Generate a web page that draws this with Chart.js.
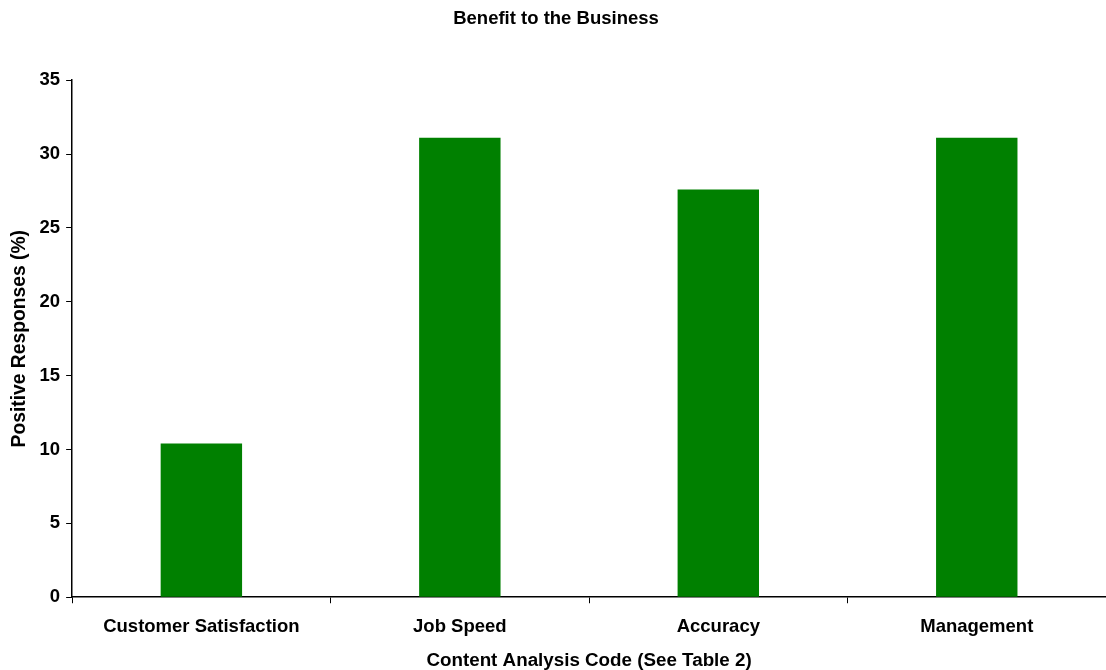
<!DOCTYPE html>
<html>
<head>
<meta charset="utf-8">
<script src="https://cdn.jsdelivr.net/npm/chart.js@4"></script>
<style>
    body {
        margin: 0;
        background: #fff;
        overflow: hidden;
    }
    .chart-container {
        position: relative;
        width: 1106px;
        height: 670px;
    }
</style>
</head>
<body>
<div class="chart-container">
    <canvas id="chart"></canvas>
</div>
<script>
    const categories = ["Customer Satisfaction", "Job Speed", "Accuracy", "Management"]
    const responses = [10.4, 31.1, 27.6, 31.1]
    const yTicks = [0, 5, 10, 15, 20, 25, 30, 35]

    const family = "'Liberation Sans', Arial, sans-serif"
    const font = {family: family, size: 18.5, weight: "bold"}

    const ctx = document.getElementById("chart").getContext("2d")
    new Chart(ctx, {
        type: "bar",
        data: {
            labels: categories,
            datasets: [{
                data: responses,
                backgroundColor: "#008000",
                borderWidth: 0,
                barPercentage: 0.63,
                categoryPercentage: 0.5
            }]
        },
        options: {
            responsive: true,
            maintainAspectRatio: false,
            animation: false,
            layout: {padding: {top: 0, right: 0, left: 6, bottom: -2}},
            plugins: {
                legend: {display: false},
                tooltip: {enabled: false},
                title: {
                    display: true,
                    text: "Benefit to the Business",
                    color: "#000",
                    font: font,
                    padding: {top: 8, bottom: 50}
                }
            },
            scales: {
                x: {
                    grid: {
                        offset: true,
                        drawOnChartArea: false,
                        tickLength: 6,
                        color: "#000"
                    },
                    border: {color: "#000", width: 1.5},
                    ticks: {color: "#000", font: font, padding: 13, maxRotation: 0},
                    title: {
                        display: true,
                        text: "Content Analysis Code (See Table 2)",
                        color: "#000",
                        font: {family: family, size: 18.8, weight: "bold"},
                        padding: {top: -2, bottom: 0}
                    }
                },
                y: {
                    min: 0,
                    max: 35,
                    afterBuildTicks: (axis) => {
                        axis.ticks = yTicks.map((v) => ({value: v}))
                    },
                    grid: {
                        drawOnChartArea: false,
                        tickLength: 6,
                        color: "#000"
                    },
                    border: {color: "#000", width: 1.5},
                    ticks: {color: "#000", font: font, padding: 6},
                    title: {
                        display: true,
                        text: "Positive Responses (%)",
                        color: "#000",
                        font: {family: family, size: 19.3, weight: "bold"},
                        padding: {top: 2, bottom: 2.4}
                    }
                }
            }
        }
    })
</script>
</body>
</html>
